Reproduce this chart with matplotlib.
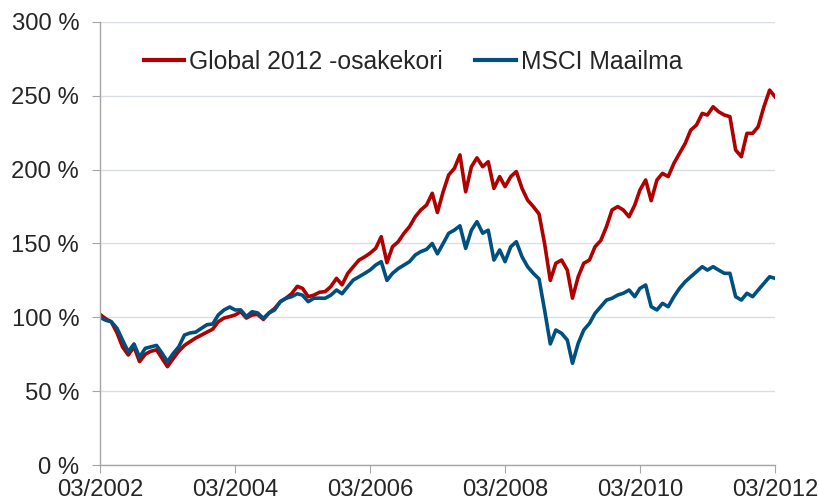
import numpy as np
import pandas as pd
import matplotlib
matplotlib.use("Agg")
import matplotlib.pyplot as plt
import matplotlib.dates as mdates

plt.rcParams['font.family'] = ['Liberation Sans', 'DejaVu Sans']

## Monthly values (index = 03/2002 = 100 %)
dates = pd.date_range("2002-03-01", periods=121, freq="MS")

global_2012 = [
    102, 99, 97, 89.5, 80, 74.5, 80, 70, 75, 77, 78, 72,
    66.6, 72, 77, 81, 83.5, 86, 88, 90, 92, 97, 99.5, 100.5,
    101.6, 103.8, 99.5, 101.6, 102, 98.6, 103, 106, 110.6, 112.9, 116, 121,
    119.6, 114, 115, 117, 117.4, 120.8, 126.4, 122, 129.8, 134.3, 138.8, 141,
    143.4, 146.7, 154.6, 137, 147.8, 151.2, 156.9, 161.4, 168.1, 172.7, 176, 184,
    171, 185, 196.4, 200.9, 210, 185, 202, 208, 202, 205.4, 187.3, 195.3,
    188.5, 195.3, 198.7, 187.3, 179.4, 175, 170, 150, 125, 136.6, 138.8, 132,
    113, 127.5, 136.6, 138.8, 147.8, 152, 161.4, 172.7, 175, 172.7, 168.1, 176,
    186.2, 193, 179, 193, 197.5, 195.3, 204.3, 211, 217.8, 226.8, 230.2, 238.1,
    237, 242.6, 239.2, 237, 235.9, 213.3, 208.8, 224.6, 224.6, 229.1, 242.6, 253.9,
    249.4,
]

msci_world = [
    100, 98, 97, 92.6, 84.6, 76.7, 82, 73, 79, 80, 81, 75.5,
    70, 75.5, 80, 88, 89.4, 90, 92.6, 95, 95.5, 101.6, 105, 107,
    105, 105, 100.5, 103.8, 103, 99.3, 103, 105, 110.6, 112.9, 114, 116,
    115, 110.6, 112.9, 113, 112.9, 115, 118.5, 116, 120.8, 125.3, 127.5, 129.8,
    132, 135.4, 137.7, 125, 129.8, 133, 135.4, 137.7, 142.2, 144.5, 146, 150,
    143, 150, 156.9, 159.1, 162, 146.7, 159, 164.8, 157, 159, 138.8, 145.6,
    137.7, 147.8, 151.2, 141, 134.3, 129.8, 126, 105, 82, 91.4, 89.2, 84.6,
    68.9, 82.4, 91.4, 95.9, 102.7, 107.2, 111.7, 112.9, 115.1, 116.3, 118.5, 114,
    119.6, 121.9, 107.2, 105, 109.5, 107.2, 114, 119.6, 124.1, 127.5, 130.9, 134.3,
    132, 134.3, 132, 129.8, 129.8, 114, 111.7, 116.3, 114, 118.5, 123, 127.5,
    126.4,
]

labels = ["Global 2012 -osakekori", "MSCI Maailma"]
y_ticks = [0, 50, 100, 150, 200, 250, 300]

text_col = "#262626"
axis_col = "#A6A6A6"

fig = plt.figure(figsize=(8.19, 5.04), dpi=100)
ax = fig.add_axes([100 / 819, 1 - 465 / 504, 675 / 819, 443 / 504])

ax.plot(dates, global_2012, color="#B00000", lw=2.6, label=labels[0], solid_joinstyle="round")
ax.plot(dates, msci_world, color="#00507F", lw=2.6, label=labels[1], solid_joinstyle="round")

ax.set_ylim(0, 300)
ax.set_xlim(dates[0], dates[-1])
ax.set_yticks(y_ticks)
ax.set_yticklabels([f"{v} %" for v in y_ticks])
ax.set_xticks(pd.date_range("2002-03-01", "2012-03-01", freq="24MS"))
ax.xaxis.set_major_formatter(mdates.DateFormatter("%m/%Y"))

ax.grid(axis="y", color="#D9DEE4", lw=1)
ax.set_axisbelow(True)
for s in ["top", "right"]:
    ax.spines[s].set_visible(False)
for s in ["left", "bottom"]:
    ax.spines[s].set_color(axis_col)
    ax.spines[s].set_linewidth(1)

ax.tick_params(axis="y", length=6, color=axis_col, pad=9, labelsize=17.2, labelcolor=text_col)
ax.tick_params(axis="x", length=6, color=axis_col, pad=4, labelsize=17.2, labelcolor=text_col)

leg = ax.legend(loc="center", bbox_to_anchor=(413 / 819, 1 - 62 / 504), bbox_transform=fig.transFigure,
                ncol=2, frameon=False, fontsize=17.8, handlelength=1.65, handletextpad=0.2,
                columnspacing=1.3, labelcolor=text_col)
for h in leg.get_lines():
    h.set_linewidth(3)

fig.savefig("out.png", dpi=100)
